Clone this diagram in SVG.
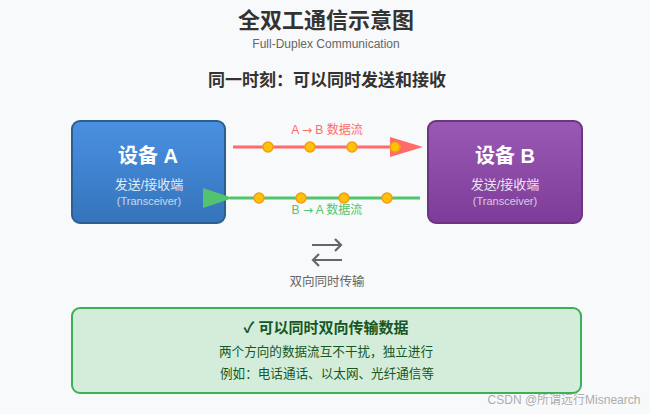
<svg xmlns="http://www.w3.org/2000/svg" width="650" height="414" viewBox="0 0 650 414">
<defs>
<linearGradient id="gA" x1="0" y1="0" x2="0" y2="1"><stop offset="0" stop-color="#4a90e2"/><stop offset="1" stop-color="#3574bb"/></linearGradient>
<linearGradient id="gB" x1="0" y1="0" x2="0" y2="1"><stop offset="0" stop-color="#9b59b6"/><stop offset="1" stop-color="#7d3c98"/></linearGradient>
<style>
text{font-family:"Liberation Sans","Noto Sans CJK SC",sans-serif;text-anchor:middle}
.t{fill:#333;font-weight:bold}
.dev{fill:#fff;font-weight:bold;font-size:20px}
.role{fill:#fff;opacity:.85;font-size:13px}
.tr{fill:#fff;opacity:.7;font-size:11px}
.dot{fill:#ffc107;stroke:#f39c12;stroke-width:1.5}
.g{fill:#155724}
.ar{font-family:"DejaVu Sans",sans-serif}
</style>
</defs>
<rect width="650" height="414" fill="#f8f9fa"/>
<g id="header">
<text x="326" y="28" class="t" font-size="22">全双工通信示意图</text>
<text x="326" y="48" font-size="12" fill="#666">Full-Duplex Communication</text>
<text x="327" y="86" class="t" font-size="17">同一时刻：可以同时发送和接收</text>
</g>
<g id="deviceA">
<rect x="72" y="121" width="153" height="102" rx="8" fill="url(#gA)" stroke="#2c5f8f" stroke-width="2"/>
<text x="148" y="163" class="dev">设备 A</text>
<text x="149" y="189" class="role">发送/接收端</text>
<text x="149" y="205" class="tr">(Transceiver)</text>
</g>
<g id="deviceB">
<rect x="428" y="121" width="154" height="102" rx="8" fill="url(#gB)" stroke="#6c3483" stroke-width="2"/>
<text x="505" y="163" class="dev">设备 B</text>
<text x="505" y="189" class="role">发送/接收端</text>
<text x="505" y="205" class="tr">(Transceiver)</text>
</g>
<g id="connectors">
<line x1="233" y1="147" x2="395" y2="147" stroke="#ff6b6b" stroke-width="3"/>
<polygon points="390,137 423,147 390,157" fill="#ff6b6b"/>
<circle class="dot" cx="268" cy="147" r="5"/>
<circle class="dot" cx="310" cy="147" r="5"/>
<circle class="dot" cx="352" cy="147" r="5"/>
<circle class="dot" cx="395" cy="147" r="5"/>
<text x="327" y="134" font-size="12" fill="#ff6b6b">A <tspan class="ar">→</tspan> B 数据流</text>
<line x1="230" y1="198" x2="420" y2="198" stroke="#51c46d" stroke-width="3"/>
<polygon points="203,188 233,198 203,208" fill="#51c46d"/>
<circle class="dot" cx="259" cy="198" r="5"/>
<circle class="dot" cx="301" cy="198" r="5"/>
<circle class="dot" cx="344" cy="198" r="5"/>
<circle class="dot" cx="387" cy="198" r="5"/>
<text x="327" y="214" font-size="12" fill="#51c46d">B <tspan class="ar">→</tspan> A 数据流</text>
</g>
<g id="legend">
<path d="M312 245 H341 M335 239 L341 245 L335 251 M342 260 H313 M319 254 L313 260 L319 266" fill="none" stroke="#666" stroke-width="2.2"/>
<text x="327" y="286" font-size="12.5" fill="#666">双向同时传输</text>
</g>
<g id="summary">
<rect x="72" y="308" width="509" height="85" rx="8" fill="#d4edda" stroke="#3cb054" stroke-width="2"/>
<text x="326" y="333" class="g" font-size="15" font-weight="bold">✓ 可以同时双向传输数据</text>
<text x="326" y="356" class="g" font-size="12.6">两个方向的数据流互不干扰，独立进行</text>
<text x="327" y="378" class="g" font-size="12.6">例如：电话通话、以太网、光纤通信等</text>
</g>
<text x="564" y="404" font-size="12" fill="#9a9a9a" opacity="0.8">CSDN @所谓远行Misnearch</text>
</svg>
